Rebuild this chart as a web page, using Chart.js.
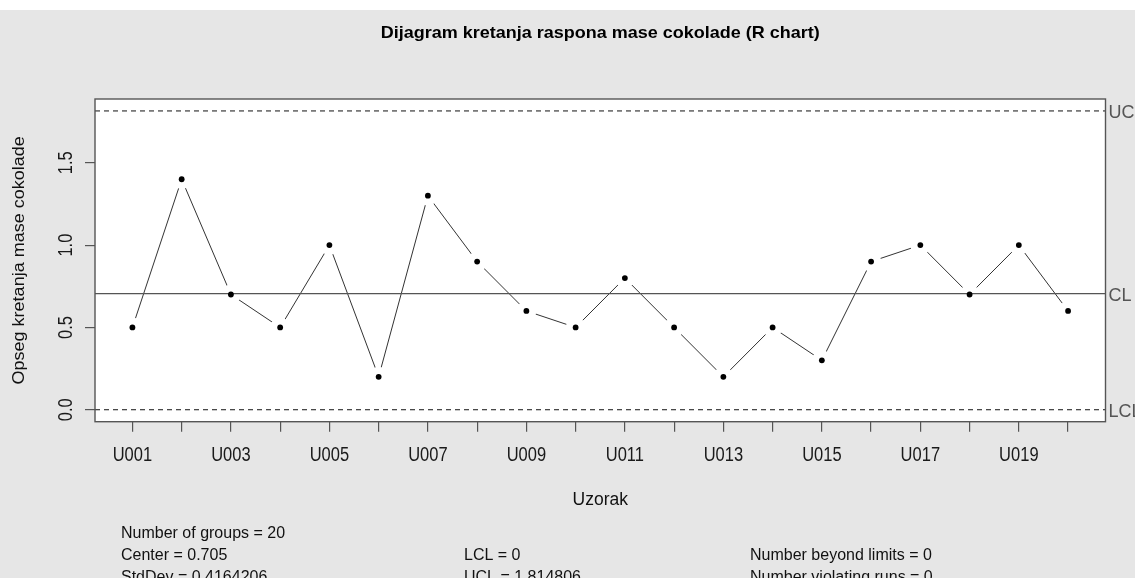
<!DOCTYPE html>
<html>
<head>
<meta charset="utf-8">
<script src="https://cdn.jsdelivr.net/npm/chart.js@4/dist/chart.umd.min.js"></script>
<style>
  html, body { margin: 0; padding: 0; background: #e6e6e6; }
  canvas { display: block; }
</style>
</head>
<body>
<canvas id="rChart" width="1135" height="578"></canvas>
<script>
// uzorci i rasponi (R chart)
const samples = ['U001','U002','U003','U004','U005','U006','U007','U008','U009','U010',
                 'U011','U012','U013','U014','U015','U016','U017','U018','U019','U020'];
const ranges = [0.5, 1.4, 0.7, 0.5, 1.0, 0.2, 1.3, 0.9, 0.6, 0.5,
                0.8, 0.5, 0.2, 0.5, 0.3, 0.9, 1.0, 0.7, 1.0, 0.6];
const yTicks = [0, 0.5, 1.0, 1.5];
const limitNames = ['UCL', 'CL', 'LCL'];
const center = 0.705;
const lcl = 0;
const ucl = 1.814806;
const statsCol1 = ['Number of groups = 20', 'Center = 0.705', 'StdDev = 0.4164206'];
const statsCol2 = ['', 'LCL = 0', 'UCL = 1.814806'];
const statsCol3 = ['', 'Number beyond limits = 0', 'Number violating runs = 0'];

// R-style axis ranges (4% extension)
const n = ranges.length;
const xMin = -0.04 * (n - 1);
const xMax = (n - 1) * 1.04;
const yMin = lcl - 0.04 * (ucl - lcl);
const yMax = ucl + 0.04 * (ucl - lcl);

const points = ranges.map((v, i) => ({ x: i, y: v }));
const hLine = v => [{ x: xMin, y: v }, { x: xMax, y: v }];

function txt(ctx, s, x, y, o) {
  ctx.save();
  ctx.translate(x, y);
  if (o.rot) ctx.rotate(o.rot);
  ctx.scale(o.sx || 1, o.sy || 1);
  ctx.font = o.font;
  ctx.fillStyle = o.color || '#111';
  ctx.textAlign = o.align || 'left';
  ctx.textBaseline = 'alphabetic';
  ctx.fillText(s, 0, 0);
  ctx.restore();
}

const FONT = '"Liberation Sans", Arial, sans-serif';

const rDecor = {
  id: 'rDecor',
  beforeDraw(chart) {
    const { ctx, chartArea: a } = chart;
    ctx.save();
    ctx.fillStyle = '#e6e6e6';
    ctx.fillRect(0, 0, chart.width, chart.height);
    ctx.fillStyle = '#ffffff';
    ctx.fillRect(0, 0, chart.width, 10);
    ctx.fillRect(a.left, a.top, a.right - a.left, a.bottom - a.top);
    ctx.restore();
  },
  // type="b": line stops short of each point
  afterDatasetDraw(chart, args) {
    if (args.index !== 0) return;
    const { ctx, chartArea: a } = chart;
    ctx.save();
    ctx.beginPath();
    ctx.rect(a.left, a.top, a.right - a.left, a.bottom - a.top);
    ctx.clip();
    ctx.fillStyle = '#ffffff';
    args.meta.data.forEach(el => {
      ctx.beginPath();
      ctx.arc(el.x, el.y, 10, 0, Math.PI * 2);
      ctx.fill();
    });
    ctx.restore();
  },
  afterDraw(chart) {
    const { ctx, chartArea: a } = chart;
    const xs = chart.scales.x, ys = chart.scales.y;
    ctx.save();
    ctx.strokeStyle = '#555';
    ctx.lineWidth = 1.4;
    ctx.strokeRect(a.left, a.top, a.right - a.left, a.bottom - a.top);
    ctx.restore();

    const tickFont = '16.5px ' + FONT;
    samples.forEach((s, i) => {
      if (i % 2 === 0) txt(ctx, s, xs.getPixelForValue(i), 461, { font: tickFont, align: 'center', sy: 1.22, color: '#1a1a1a' });
    });
    yTicks.forEach(v => {
      txt(ctx, v.toFixed(1), 72, ys.getPixelForValue(v), { font: tickFont, align: 'center', rot: -Math.PI / 2, sy: 1.22, color: '#1a1a1a' });
    });
    [ucl, center, lcl].forEach((v, i) => {
      txt(ctx, limitNames[i], a.right + 3, ys.getPixelForValue(v) + 7, { font: '18px ' + FONT, sy: 1.05, color: '#555' });
    });

    const mid = (a.left + a.right) / 2;
    txt(ctx, 'Dijagram kretanja raspona mase cokolade (R chart)', mid, 38, { font: 'bold 18px ' + FONT, align: 'center', sy: 0.95, color: '#000' });
    txt(ctx, 'Uzorak', mid, 505, { font: '17.5px ' + FONT, align: 'center', color: '#111' });
    txt(ctx, 'Opseg kretanja mase cokolade', 23.5, (a.top + a.bottom) / 2, { font: '18px ' + FONT, align: 'center', rot: -Math.PI / 2, sy: 0.88, color: '#111' });

    const footFont = '16px ' + FONT;
    [statsCol1, statsCol2, statsCol3].forEach((col, c) => {
      const x = [121, 464, 750][c];
      col.forEach((s, r) => {
        if (s) txt(ctx, s, x, 537.5 + r * 22, { font: footFont, sy: 1.06, color: '#111' });
      });
    });
  }
};

new Chart(document.getElementById('rChart'), {
  type: 'scatter',
  data: {
    datasets: [
      { data: points, showLine: true, borderColor: '#333', borderWidth: 1, pointRadius: 0, order: 6 },
      { data: hLine(ucl), showLine: true, borderColor: '#111', borderWidth: 1, borderDash: [5, 4], pointRadius: 0, order: 3 },
      { data: hLine(lcl), showLine: true, borderColor: '#111', borderWidth: 1, borderDash: [5, 4], pointRadius: 0, order: 3 },
      { data: hLine(center), showLine: true, borderColor: '#555', borderWidth: 1.4, pointRadius: 0, order: 2 },
      { data: points, showLine: false, pointRadius: 2.9, pointBackgroundColor: '#000', pointBorderWidth: 0, order: 1 }
    ]
  },
  options: {
    responsive: false,
    animation: false,
    devicePixelRatio: 1,
    layout: { padding: { top: 99, right: 29.5, left: 0, bottom: 0 } },
    plugins: { legend: { display: false }, tooltip: { enabled: false } },
    scales: {
      x: {
        type: 'linear', min: xMin, max: xMax,
        afterBuildTicks: s => { s.ticks = samples.map((_, i) => ({ value: i })); },
        afterFit: s => { s.height = 578 - 421.7; },
        ticks: { display: false },
        grid: { display: true, drawOnChartArea: false, drawTicks: true, tickLength: 10, color: '#555', lineWidth: 1.2 },
        border: { display: false }
      },
      y: {
        type: 'linear', min: yMin, max: yMax,
        afterBuildTicks: s => { s.ticks = yTicks.map(v => ({ value: v })); },
        afterFit: s => { s.width = 95; },
        ticks: { display: false },
        grid: { display: true, drawOnChartArea: false, drawTicks: true, tickLength: 10, color: '#555', lineWidth: 1.2 },
        border: { display: false }
      }
    }
  },
  plugins: [rDecor]
});
</script>
</body>
</html>
